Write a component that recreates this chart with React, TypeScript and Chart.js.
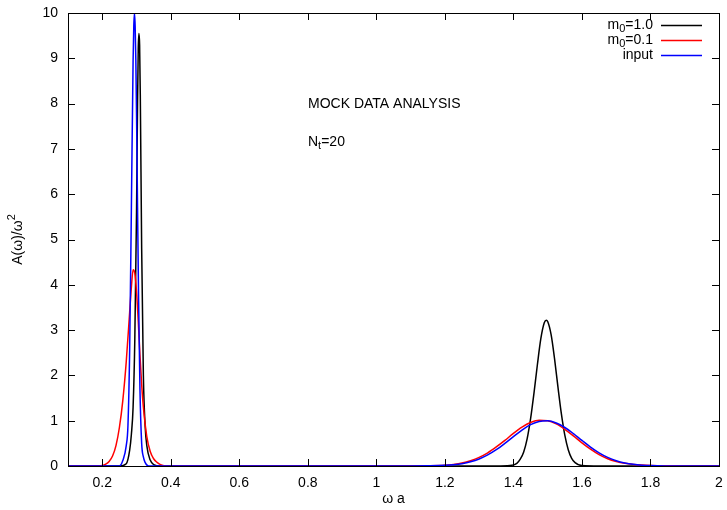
import React, { useEffect, useRef } from 'react';
import { Chart, registerables } from 'chart.js';

Chart.register(...registerables);

// ---- tick values ----
const xTicks = [0.2, 0.4, 0.6, 0.8, 1.0, 1.2, 1.4, 1.6, 1.8, 2.0];
const xTickLabels = ['0.2', '0.4', '0.6', '0.8', '1', '1.2', '1.4', '1.6', '1.8', '2'];
const yTicks = [0, 1, 2, 3, 4, 5, 6, 7, 8, 9, 10];

// ---- series: m0=1.0 (black) ----
const blackX = [0.1, 0.25, 0.27, 0.28, 0.285, 0.29, 0.295, 0.3, 0.303, 0.305, 0.307, 0.309, 0.311, 0.315, 0.32, 0.325, 0.33, 0.34, 0.35, 0.37,
  1.35, 1.39, 1.41, 1.42, 1.43, 1.44, 1.45, 1.46, 1.47, 1.48, 1.49, 1.496, 1.5, 1.51, 1.52, 1.53, 1.54, 1.55, 1.56, 1.57, 1.58, 1.6, 1.65, 2.0];
const blackY = [0, 0, 0.05, 0.35, 0.7, 1.3, 2.8, 5.6, 8.0, 9.2, 9.55, 9.3, 8.2, 4.8, 2.0, 0.9, 0.45, 0.13, 0.03, 0,
  0, 0.01, 0.06, 0.15, 0.31, 0.6, 1.04, 1.61, 2.24, 2.81, 3.16, 3.22, 3.19, 2.9, 2.37, 1.74, 1.15, 0.68, 0.36, 0.17, 0.074, 0.01, 0, 0];

// ---- series: m0=0.1 (red) ----
const redX = [0.1, 0.19, 0.2, 0.21, 0.22, 0.23, 0.24, 0.25, 0.26, 0.27, 0.28, 0.285, 0.29, 0.295, 0.3, 0.305, 0.31, 0.315, 0.32, 0.33, 0.34, 0.35, 0.36, 0.37, 0.38, 0.4,
  1.1, 1.15, 1.2, 1.225, 1.25, 1.275, 1.3, 1.325, 1.35, 1.375, 1.4, 1.425, 1.45, 1.475, 1.5, 1.525, 1.55, 1.575, 1.6, 1.625, 1.65, 1.675, 1.7, 1.725, 1.75, 1.775, 1.8, 1.85, 1.9, 2.0];
const redY = [0, 0, 0.01, 0.04, 0.1, 0.22, 0.45, 0.85, 1.45, 2.3, 3.4, 3.95, 4.33, 4.25, 3.85, 3.2, 2.45, 1.8, 1.3, 0.65, 0.32, 0.16, 0.08, 0.03, 0.008, 0,
  0.001, 0.006, 0.018, 0.036, 0.066, 0.117, 0.19, 0.29, 0.42, 0.565, 0.72, 0.857, 0.96, 1.01, 1.0, 0.93, 0.81, 0.665, 0.51, 0.37, 0.25, 0.16, 0.1, 0.06, 0.035, 0.02, 0.011, 0.003, 0.001, 0];

// ---- series: input (blue) ----
const blueX = [0.1, 0.25, 0.26, 0.27, 0.275, 0.28, 0.285, 0.29, 0.292, 0.294, 0.296, 0.298, 0.3, 0.303, 0.306, 0.31, 0.315, 0.32, 0.325, 0.335,
  1.1, 1.15, 1.2, 1.225, 1.25, 1.275, 1.3, 1.325, 1.35, 1.375, 1.4, 1.425, 1.45, 1.475, 1.5, 1.525, 1.55, 1.575, 1.6, 1.625, 1.65, 1.675, 1.7, 1.725, 1.75, 1.775, 1.8, 1.85, 1.9, 2.0];
const blueY = [0, 0, 0.12, 0.45, 0.9, 2.57, 5.7, 8.95, 9.7, 10.0, 9.7, 8.95, 7.8, 5.7, 3.7, 1.7, 0.5, 0.2, 0.08, 0,
  0.001, 0.004, 0.014, 0.028, 0.052, 0.093, 0.155, 0.244, 0.36, 0.499, 0.649, 0.794, 0.912, 0.984, 0.998, 0.95, 0.85, 0.715, 0.564, 0.418, 0.292, 0.191, 0.117, 0.068, 0.037, 0.019, 0.009, 0.002, 0, 0];

const seriesNames = ['m0=1.0', 'm0=0.1', 'input'];
const seriesColors = ['#000000', '#ff0000', '#0000ff'];

const FONT = '"Liberation Sans", Arial, sans-serif';
const FS = 14;

type Part = { t: string; m?: 'sub' | 'sup' };

function richWidth(ctx: CanvasRenderingContext2D, parts: Part[]) {
  let w = 0;
  for (const p of parts) {
    ctx.font = `${p.m ? Math.round(FS * 0.75) : FS}px ${FONT}`;
    w += ctx.measureText(p.t).width;
  }
  return w;
}

function drawRich(ctx: CanvasRenderingContext2D, parts: Part[], x: number, y: number, align: 'left' | 'right' | 'center') {
  const w = richWidth(ctx, parts);
  let cx = align === 'left' ? x : align === 'right' ? x - w : x - w / 2;
  ctx.textAlign = 'left';
  ctx.textBaseline = 'middle';
  for (const p of parts) {
    ctx.font = `${p.m ? Math.round(FS * 0.75) : FS}px ${FONT}`;
    const dy = p.m === 'sub' ? 4 : p.m === 'sup' ? -6 : 0;
    ctx.fillText(p.t, cx, y + dy);
    cx += ctx.measureText(p.t).width;
  }
}

const decorPlugin = {
  id: 'decor',
  afterDatasetsDraw(chart: any) {
    const { ctx, chartArea: a, scales } = chart;
    const xs = scales.x, ys = scales.y;
    ctx.save();
    ctx.strokeStyle = '#000';
    ctx.lineWidth = 1;
    // border
    ctx.strokeRect(Math.round(a.left) + 0.5, Math.round(a.top) + 0.5, Math.round(a.right - a.left), Math.round(a.bottom - a.top));
    const TL = 7;
    ctx.beginPath();
    for (const v of xTicks) {
      const px = Math.round(xs.getPixelForValue(v)) + 0.5;
      ctx.moveTo(px, a.bottom); ctx.lineTo(px, a.bottom - TL);
      ctx.moveTo(px, a.top); ctx.lineTo(px, a.top + TL);
    }
    for (const v of yTicks) {
      const py = Math.round(ys.getPixelForValue(v)) + 0.5;
      ctx.moveTo(a.left, py); ctx.lineTo(a.left + TL, py);
      ctx.moveTo(a.right, py); ctx.lineTo(a.right - TL, py);
    }
    ctx.stroke();

    ctx.fillStyle = '#000';
    // annotations
    drawRich(ctx, [{ t: 'MOCK DATA ANALYSIS' }], 308, 104, 'left');
    drawRich(ctx, [{ t: 'N' }, { t: 't', m: 'sub' }, { t: '=20' }], 308, 142, 'left');

    // legend
    const legendParts: Part[][] = [
      [{ t: 'm' }, { t: '0', m: 'sub' }, { t: '=1.0' }],
      [{ t: 'm' }, { t: '0', m: 'sub' }, { t: '=0.1' }],
      [{ t: 'input' }],
    ];
    const rowY = [a.top + 12, a.top + 27, a.top + 42];
    legendParts.forEach((parts, i) => {
      ctx.fillStyle = '#000';
      drawRich(ctx, parts, 653, rowY[i], 'right');
      ctx.strokeStyle = seriesColors[i];
      ctx.lineWidth = 1.5;
      ctx.beginPath();
      ctx.moveTo(661, Math.round(rowY[i]) + 0.5);
      ctx.lineTo(702, Math.round(rowY[i]) + 0.5);
      ctx.stroke();
    });

    // axis titles
    ctx.fillStyle = '#000';
    drawRich(ctx, [{ t: 'ω a' }], (a.left + a.right) / 2, 499, 'center');
    ctx.save();
    ctx.translate(18, (a.top + a.bottom) / 2);
    ctx.rotate(-Math.PI / 2);
    drawRich(ctx, [{ t: 'A(ω)/ω' }, { t: '2', m: 'sup' }], 0, 0, 'center');
    ctx.restore();
    ctx.restore();
  },
};

export default function App() {
  const ref = useRef<HTMLCanvasElement | null>(null);
  useEffect(() => {
    if (!ref.current) return;
    const mk = (xs: number[], ys: number[]) => xs.map((x, i) => ({ x, y: ys[i] }));
    const chart = new Chart(ref.current, {
      type: 'line',
      data: {
        datasets: [
          { label: seriesNames[0], data: mk(blackX, blackY), borderColor: seriesColors[0], order: 2 },
          { label: seriesNames[1], data: mk(redX, redY), borderColor: seriesColors[1], order: 1 },
          { label: seriesNames[2], data: mk(blueX, blueY), borderColor: seriesColors[2], order: 0 },
        ].map((d) => ({ ...d, borderWidth: 1.5, pointRadius: 0, fill: false, cubicInterpolationMode: 'monotone' as const })),
      },
      options: {
        animation: false,
        responsive: false,
        devicePixelRatio: 1,
        layout: { padding: { left: 0, top: 13, right: 8, bottom: 0 } },
        plugins: { legend: { display: false }, tooltip: { enabled: false } },
        scales: {
          x: {
            type: 'linear',
            min: 0.1,
            max: 2,
            afterBuildTicks: (s: any) => { s.ticks = xTicks.map((v) => ({ value: v })); },
            afterFit: (s: any) => { s.height = 44; s.paddingLeft = 0; s.paddingRight = 0; },
            grid: { display: false, drawTicks: false },
            border: { display: false },
            ticks: {
              padding: 9,
              color: '#000',
              font: { family: FONT, size: FS },
              maxRotation: 0,
              autoSkip: false,
              callback: (v: any) => { const i = xTicks.findIndex((t) => Math.abs(t - v) < 1e-9); return i >= 0 ? xTickLabels[i] : ''; },
            },
          },
          y: {
            type: 'linear',
            min: 0,
            max: 10,
            afterBuildTicks: (s: any) => { s.ticks = yTicks.map((v) => ({ value: v })); },
            afterFit: (s: any) => { s.width = 68; s.paddingTop = 0; s.paddingBottom = 0; },
            grid: { display: false, drawTicks: false },
            border: { display: false },
            ticks: { padding: 10, color: '#000', font: { family: FONT, size: FS }, autoSkip: false },
          },
        },
      },
      plugins: [decorPlugin],
    });
    return () => chart.destroy();
  }, []);
  return (
    <div style={{ position: 'absolute', left: 0, top: 0, width: 727, height: 510, background: '#fff' }}>
      <canvas ref={ref} width={727} height={510} style={{ display: 'block' }} />
    </div>
  );
}
